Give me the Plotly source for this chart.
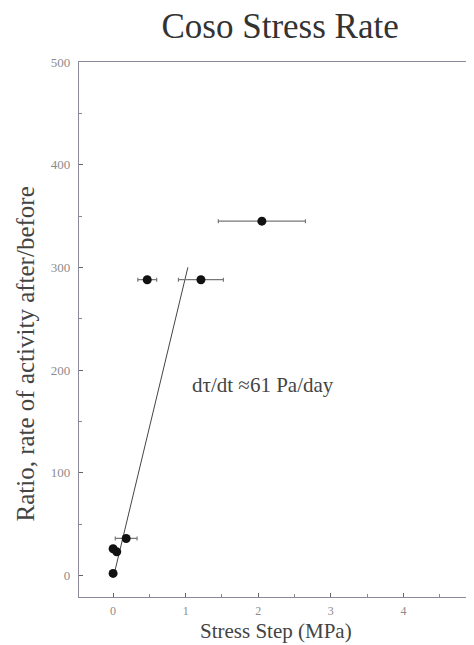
import plotly.graph_objects as go

# data
stress_step = [0.0, 0.0, 0.05, 0.18, 0.47, 1.21, 2.05]
stress_err = [0.0, 0.0, 0.0, 0.15, 0.13, 0.31, 0.60]
ratio = [2, 26, 23, 36, 288, 288, 345]
fit_x = [0.01, 1.03]
fit_y = [0, 300]
x_ticks = [0, 1, 2, 3, 4]
y_ticks = [0, 100, 200, 300, 400, 500]

serif = "Liberation Serif, Times New Roman, serif"

fig = go.Figure()
fig.add_trace(go.Scatter(
    x=fit_x, y=fit_y, mode="lines",
    line=dict(color="#444444", width=1), showlegend=False, hoverinfo="skip"))
fig.add_trace(go.Scatter(
    x=stress_step, y=ratio, mode="markers",
    marker=dict(color="#111111", size=9),
    error_x=dict(type="data", array=stress_err, visible=True,
                 color="#777777", thickness=1.2, width=2),
    showlegend=False))

fig.add_annotation(x=2.07, y=185, text="dτ/dt ≈61 Pa/day", showarrow=False,
                   font=dict(family=serif, size=21, color="#444444"))
fig.add_annotation(x=0.50, xref="paper", y=-0.0635, yref="paper",
                   xanchor="center", yanchor="middle",
                   text="Stress Step (MPa)", showarrow=False,
                   font=dict(family=serif, size=21, color="#444444"))
fig.add_annotation(x=-0.135, xref="paper", y=0.455, yref="paper",
                   xanchor="center", yanchor="middle",
                   text="Ratio, rate of activity after/before", showarrow=False,
                   textangle=-90,
                   font=dict(family=serif, size=25, color="#444444"))

axis_common = dict(showgrid=False, zeroline=False, showline=True, mirror=True,
                   linecolor="#8a8a9a", linewidth=1.2, ticks="inside",
                   tickcolor="#666666", ticklen=4)

fig.update_xaxes(range=[-0.47, 4.945], tickvals=x_ticks, ticklabelstandoff=2,
                 tickfont=dict(family=serif, size=12, color="#8c8c8c"),
                 minor=dict(dtick=0.5, ticks="inside", ticklen=3, tickcolor="#888888"),
                 **axis_common)
fig.update_yaxes(range=[-21, 500], tickvals=y_ticks, ticklabelstandoff=5,
                 tickfont=dict(family=serif, size=13, color="#8c8c8c"),
                 minor=dict(dtick=50, ticks="inside", ticklen=3, tickcolor="#888888"),
                 **axis_common)

# page body has an 8px margin: shift layout accordingly
fig.update_layout(
    width=466, height=637,
    margin=dict(l=71, r=2, t=54, b=48),
    paper_bgcolor="white", plot_bgcolor="white",
    title=dict(text="Coso Stress Rate", x=0.584, xanchor="center",
               y=0.972, yanchor="middle",
               font=dict(family=serif, size=35, color="#333333")),
)

fig.write_html("out.html")
